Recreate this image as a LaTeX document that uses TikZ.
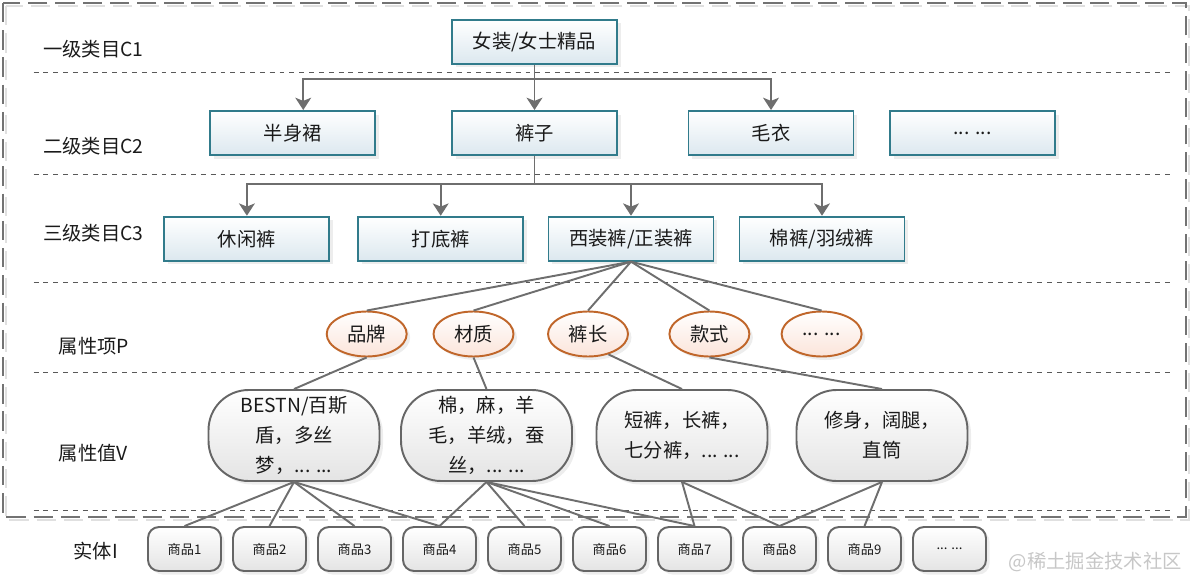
\documentclass[tikz,border=0pt]{standalone}
\usepackage{fontspec}
\setmainfont{Noto Sans CJK SC}
\usepackage{tikz}
\usetikzlibrary{arrows.meta, shapes.geometric, shadows}
\usepackage{xcolor}
\definecolor{boxline}{HTML}{317B8B}
\definecolor{boxfill}{HTML}{DCE8EF}
\definecolor{ovalline}{HTML}{C0662A}
\definecolor{ovalfill}{HTML}{FBE4DA}
\definecolor{pillline}{HTML}{666666}
\definecolor{pillfill}{HTML}{E4E4E4}
\definecolor{wire}{HTML}{6E6E6E}
\definecolor{ink}{HTML}{1A1A1A}

\begin{document}
\begin{tikzpicture}[x=0.02cm, y=-0.02cm,
        txt/.style={font=\fontsize{11}{17}\selectfont, text=ink},
        soft/.style={drop shadow={shadow xshift=2pt, shadow yshift=-2pt, opacity=0.14}},
        catbox/.style={txt, soft, draw=boxline, line width=1.1pt, top color=white, bottom color=boxfill,
            minimum width=3.3cm, minimum height=0.88cm, inner sep=0pt},
        attr/.style={txt, soft, ellipse, draw=ovalline, line width=1.1pt, top color=white, bottom color=ovalfill,
            minimum width=1.6cm, minimum height=0.9cm, inner sep=0pt},
        val/.style={txt, soft, draw=pillline, line width=1.1pt, top color=white, bottom color=pillfill,
            rounded corners=0.8cm, minimum width=3.42cm, minimum height=1.82cm, align=center, inner sep=0pt},
        item/.style={soft, draw=pillline, line width=1.1pt, top color=white, bottom color=pillfill,
            rounded corners=0.22cm, minimum width=1.46cm, minimum height=0.88cm, inner sep=0pt,
            font=\fontsize{7.5}{9}\selectfont, text=ink},
        lbl/.style={txt, anchor=west, inner sep=0pt},
        link/.style={draw=wire, line width=1.1pt},
        arrow/.style={link, -{Stealth[length=7pt, width=9pt, inset=1.8pt]}},
        sep/.style={draw=black!65, line width=0.85pt, dash pattern=on 2.8pt off 2.8pt},
        frame/.style={draw=black!55, line width=1.1pt, dash pattern=on 11pt off 4.5pt}]

    \useasboundingbox (0,0) rectangle (1192,578);

    \draw[frame, draw=black!12] (6,6) rectangle (1189,520);
    \draw[frame] (3,3) rectangle (1186,517);

    \draw[sep] (33.6,72.7) -- (1170,72.7);
    \draw[sep] (33.6,174.7) -- (1170,174.7);
    \draw[sep] (33.6,282.7) -- (1170,282.7);
    \draw[sep] (33.6,372.7) -- (1170,372.7);
    \draw[sep] (33.6,510.7) -- (1170,510.7);

    \node[lbl](L_C1) at (42.7, 49){一级类目C1};
    \node[lbl](L_C2) at (42.7, 145.7){二级类目C2};
    \node[lbl](L_C3) at (42.7, 233.5){三级类目C3};
    \node[lbl](L_P) at (58.5, 346){属性项P};
    \node[lbl](L_V) at (58.5, 453.5){属性值V};
    \node[lbl](L_I) at (73, 551.5){实体I};

    \node[catbox](C1) at (534.5, 41.7){女装/女士精品};

    \node[catbox](C2_1) at (292.7, 133){半身裙};
    \node[catbox](C2_2) at (534.5, 133){裤子};
    \node[catbox](C2_3) at (771, 133){毛衣};
    \node[catbox](C2_4) at (972.5, 133){... ...};

    \node[catbox](C3_1) at (246.9, 238.7){休闲裤};
    \node[catbox](C3_2) at (440.7, 238.7){打底裤};
    \node[catbox](C3_3) at (631, 238.7){西装裤/正装裤};
    \node[catbox](C3_4) at (822, 238.7){棉裤/羽绒裤};

    \node[attr](P_1) at (366.7, 334){品牌};
    \node[attr](P_2) at (473.5, 334){材质};
    \node[attr](P_3) at (588, 334){裤长};
    \node[attr](P_4) at (709.4, 334){款式};
    \node[attr](P_5) at (821.6, 334){... ...};

    \node[val](V_1) at (294, 435.5){BESTN/百斯\\盾，多丝\\梦，... ...};
    \node[val](V_2) at (486.5, 435.5){棉，麻，羊\\毛，羊绒，蚕\\丝，... ...};
    \node[val](V_3) at (682, 435.5){短裤，长裤，\\七分裤，... ...};
    \node[val](V_4) at (882, 435.5){修身，阔腿，\\直筒};

    \node[item](I_1) at (184.5, 549){商品1};
    \node[item](I_2) at (269.5, 549){商品2};
    \node[item](I_3) at (354.5, 549){商品3};
    \node[item](I_4) at (439.5, 549){商品4};
    \node[item](I_5) at (524.5, 549){商品5};
    \node[item](I_6) at (609.5, 549){商品6};
    \node[item](I_7) at (694.5, 549){商品7};
    \node[item](I_8) at (779.5, 549){商品8};
    \node[item](I_9) at (864.5, 549){商品9};
    \node[item](I_10) at (949.5, 549){... ...};

    \coordinate (bus_1) at (534.5, 79);
    \coordinate (bus_2) at (534.5, 184.3);

    \path[link] (C1) edge (bus_1);
    \draw[arrow] (bus_1) -| ([xshift=6]C2_1.north);
    \draw[arrow] (bus_1) -- (C2_2);
    \draw[arrow] (bus_1) -| (C2_3);

    \path[link] (C2_2) edge (bus_2);
    \draw[arrow] (bus_2) -| (C3_1);
    \draw[arrow] (bus_2) -| (C3_2);
    \draw[arrow] (bus_2) -| (C3_3);
    \draw[arrow] (bus_2) -| (C3_4);

    \path[link] (C3_3.south) edge (P_1.north);
    \path[link] (C3_3.south) edge (P_2.north);
    \path[link] (C3_3.south) edge (P_3.north);
    \path[link] (C3_3.south) edge (P_4.north);
    \path[link] (C3_3.south) edge (P_5.north);

    \path[link] (P_1.south) edge (V_1.north);
    \path[link] (P_2.south) edge (V_2.north);
    \path[link] (P_3.-45) edge (V_3.north);
    \path[link] (P_4.south) edge (V_4.north);

    \path[link] (V_1.south) edge (I_1.north);
    \path[link] (V_1.south) edge (I_2.north);
    \path[link] (V_1.south) edge (I_3.north);
    \path[link] (V_1.south) edge (I_4.north);
    \path[link] (V_2.south) edge (I_4.north);
    \path[link] (V_2.south) edge (I_5.north);
    \path[link] (V_2.south) edge (I_6.north);
    \path[link] (V_2.south) edge (I_7.north);
    \path[link] (V_3.south) edge (I_7.north);
    \path[link] (V_3.south) edge (I_8.north);
    \path[link] (V_4.south) edge (I_8.north);
    \path[link] (V_4.south) edge (I_9.north);

    \node[txt, text=black!22, anchor=east](W) at (1188, 561.5){@稀土掘金技术社区};
\end{tikzpicture}
\end{document}
